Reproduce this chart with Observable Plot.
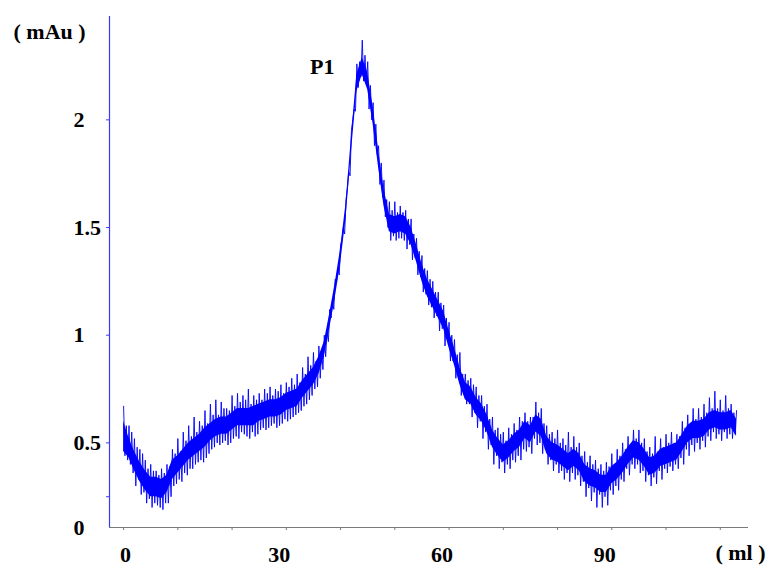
<!DOCTYPE html>
<html><head><meta charset="utf-8">
<script src="https://cdn.jsdelivr.net/npm/d3@7"></script>
<script src="https://cdn.jsdelivr.net/npm/@observablehq/plot@0.6"></script>
<style>html,body{margin:0;padding:0;background:#fff}#chart svg{display:block}</style>
</head><body><div id="chart"></div>
<script>
// elution volume (ml), sampled every 1 ml
const volumeMl = d3.range(0, 114);
// dense core of the noisy absorbance trace (mAu): lower / upper edge
const coreLo = [0.46,0.43,0.37,0.32,0.28,0.25,0.25,0.24,0.27,0.33,
0.36,0.39,0.42,0.44,0.46,0.48,0.51,0.53,0.54,0.54,
0.56,0.58,0.58,0.58,0.58,0.60,0.61,0.62,0.62,0.63,
0.65,0.66,0.67,0.71,0.74,0.77,0.82,0.90,1.03,1.17,
1.33,1.54,1.85,2.13,2.21,2.14,1.98,1.78,1.60,1.48,
1.47,1.48,1.47,1.42,1.34,1.25,1.18,1.13,1.08,1.03,
0.94,0.86,0.77,0.70,0.68,0.63,0.60,0.55,0.48,0.44,
0.41,0.43,0.46,0.48,0.52,0.50,0.55,0.53,0.45,0.42,
0.41,0.39,0.37,0.39,0.37,0.32,0.30,0.29,0.27,0.27,
0.31,0.33,0.36,0.40,0.43,0.42,0.39,0.35,0.36,0.39,
0.40,0.41,0.42,0.46,0.50,0.52,0.52,0.53,0.56,0.57,
0.56,0.56,0.57,0.53];
const coreHi = [0.60,0.52,0.46,0.41,0.37,0.34,0.34,0.33,0.35,0.42,
0.44,0.47,0.50,0.52,0.54,0.57,0.59,0.61,0.62,0.62,
0.64,0.66,0.66,0.66,0.67,0.68,0.69,0.70,0.70,0.71,
0.73,0.74,0.75,0.79,0.82,0.85,0.90,0.97,1.10,1.24,
1.40,1.61,1.92,2.21,2.29,2.22,2.06,1.86,1.68,1.56,
1.55,1.56,1.55,1.50,1.42,1.33,1.26,1.21,1.16,1.11,
1.02,0.94,0.85,0.78,0.76,0.71,0.68,0.63,0.56,0.52,
0.49,0.51,0.54,0.56,0.60,0.58,0.63,0.61,0.53,0.50,
0.49,0.47,0.45,0.47,0.45,0.40,0.38,0.37,0.35,0.35,
0.39,0.41,0.44,0.48,0.51,0.50,0.47,0.43,0.44,0.47,
0.48,0.49,0.50,0.54,0.58,0.60,0.60,0.61,0.64,0.65,
0.64,0.64,0.65,0.61];
// large noise spikes: upward extreme at each ml, downward extreme a quarter ml later
const spikeUp = [0.67,0.58,0.52,0.47,0.42,0.40,0.37,0.38,0.40,0.47,
0.52,0.55,0.58,0.62,0.60,0.65,0.68,0.70,0.69,0.66,
0.72,0.73,0.72,0.75,0.72,0.73,0.75,0.76,0.75,0.77,
0.78,0.80,0.82,0.85,0.90,0.92,0.95,1.00,1.12,1.26,
1.42,1.63,1.95,2.26,2.37,2.27,2.08,1.88,1.72,1.62,
1.62,1.60,1.58,1.54,1.45,1.37,1.30,1.25,1.20,1.14,
1.06,0.98,0.92,0.82,0.80,0.76,0.72,0.68,0.62,0.57,
0.55,0.57,0.59,0.62,0.64,0.62,0.69,0.66,0.58,0.55,
0.56,0.52,0.55,0.53,0.50,0.46,0.44,0.42,0.40,0.41,
0.45,0.47,0.50,0.53,0.56,0.56,0.52,0.48,0.53,0.52,
0.54,0.55,0.54,0.60,0.63,0.66,0.66,0.68,0.71,0.74,
0.70,0.72,0.68,0.65];
const spikeDown = [0.44,0.40,0.30,0.26,0.22,0.20,0.21,0.19,0.22,0.30,
0.33,0.36,0.38,0.40,0.42,0.43,0.47,0.50,0.50,0.49,
0.52,0.52,0.54,0.52,0.53,0.56,0.56,0.58,0.57,0.59,
0.60,0.62,0.64,0.67,0.70,0.75,0.80,0.90,1.08,1.25,
1.44,1.68,2.00,2.15,2.18,2.05,1.88,1.70,1.55,1.44,
1.44,1.45,1.40,1.35,1.28,1.20,1.14,1.08,1.02,0.95,
0.88,0.80,0.72,0.68,0.62,0.57,0.52,0.47,0.40,0.38,
0.36,0.38,0.41,0.42,0.46,0.45,0.49,0.45,0.40,0.37,
0.36,0.33,0.32,0.33,0.30,0.25,0.23,0.20,0.20,0.21,
0.26,0.28,0.32,0.35,0.38,0.36,0.32,0.30,0.31,0.33,
0.36,0.37,0.38,0.40,0.44,0.46,0.47,0.48,0.51,0.52,
0.51,0.52,0.52];
// smaller noise spikes: upward at ml + 0.5, downward at ml + 0.75
const spikeUpB = [0.58,0.55,0.48,0.45,0.38,0.37,0.35,0.36,0.39,0.45,
0.46,0.51,0.53,0.55,0.58,0.59,0.63,0.63,0.66,0.65,
0.67,0.69,0.70,0.68,0.70,0.70,0.73,0.72,0.74,0.73,
0.76,0.77,0.78,0.82,0.86,0.88,0.93,1.02,1.16,1.31,
1.50,1.76,2.05,2.27,2.30,2.16,1.98,1.80,1.63,1.58,
1.57,1.57,1.54,1.47,1.39,1.31,1.26,1.20,1.15,1.08,
1.00,0.91,0.82,0.79,0.77,0.72,0.67,0.61,0.56,0.54,
0.51,0.54,0.56,0.60,0.60,0.62,0.64,0.59,0.54,0.52,
0.50,0.49,0.48,0.48,0.44,0.41,0.40,0.38,0.37,0.39,
0.40,0.44,0.47,0.49,0.52,0.50,0.46,0.45,0.46,0.48,
0.50,0.50,0.53,0.57,0.59,0.61,0.62,0.64,0.66,0.66,
0.65,0.66,0.64];
const spikeDownB = [0.42,0.36,0.33,0.27,0.24,0.22,0.20,0.22,0.25,0.31,
0.32,0.35,0.38,0.41,0.41,0.45,0.48,0.49,0.51,0.50,
0.53,0.55,0.53,0.55,0.54,0.57,0.57,0.59,0.58,0.61,
0.61,0.63,0.65,0.68,0.72,0.76,0.84,0.97,1.12,1.28,
1.47,1.74,2.04,2.20,2.17,2.00,1.84,1.64,1.50,1.46,
1.45,1.44,1.42,1.36,1.27,1.19,1.13,1.09,1.03,0.97,
0.88,0.80,0.74,0.68,0.64,0.60,0.55,0.49,0.44,0.41,
0.40,0.42,0.44,0.47,0.48,0.52,0.50,0.47,0.42,0.40,
0.37,0.36,0.36,0.35,0.32,0.29,0.27,0.26,0.25,0.28,
0.30,0.33,0.38,0.40,0.40,0.37,0.35,0.34,0.37,0.38,
0.39,0.40,0.43,0.47,0.49,0.50,0.51,0.53,0.55,0.54,
0.55,0.54,0.54];

const xTicks = [0,10,20,30,40,50,60,70,80,90,100,110];
const xLabelValues = [0,30,60,90];
const yTicks = [0.25,0.5,1,1.5,2];
const yLabelValues = [0,0.5,1,1.5,2];
const yLabelText = ["0","0.5","1","1.5","2"];
const peakNames = ["P1"];
const peakMl = [44];
const peakValue = [2.25];
const xUnit = "( ml )";
const yUnit = "( mAu )";

const blue = "#0000ff";
const xDomain = [-2.6, 115.2];
const yDomain = [0.107, 2.48];

// noisy trace: the typed extremes in order along the volume axis
const trace = [];
volumeMl.forEach((v, i) => {
  trace.push({x: v, y: spikeUp[i]});
  if (i < spikeDown.length) {
    trace.push({x: v + 0.25, y: spikeDown[i]});
    trace.push({x: v + 0.5, y: spikeUpB[i]});
    trace.push({x: v + 0.75, y: spikeDownB[i]});
  }
});

const font = {fontSize: 22, fontWeight: "bold", fill: "#000"};

const chart = Plot.plot({
  width: 770, height: 568,
  marginLeft: 109, marginRight: 22, marginTop: 16, marginBottom: 41,
  x: {domain: xDomain},
  y: {domain: yDomain, clamp: true},
  style: {fontFamily: "'Liberation Serif','Times New Roman',serif", background: "#fff"},
  marks: [
    Plot.axisX(xTicks, {tickSize: 3, tickFormat: () => "", stroke: "#7a7a7a", label: null}),
    Plot.axisY(yTicks, {tickSize: 3, tickFormat: () => "", stroke: "#3a3aff", label: null}),
    Plot.ruleY([yDomain[0]], {stroke: "#7a7a7a", strokeWidth: 1}),
    Plot.ruleX([xDomain[0]], {stroke: "#3a3aff", strokeWidth: 1.2}),
    Plot.areaY(volumeMl, {x: d => d, y1: (d, i) => coreLo[i], y2: (d, i) => coreHi[i], fill: blue}),
    Plot.line(trace, {x: "x", y: "y", stroke: blue, strokeWidth: 0.9}),
    Plot.text(yLabelValues, {y: d => d, text: (d, i) => yLabelText[i], frameAnchor: "left", textAnchor: "start", lineAnchor: "middle", dx: -36, ...font}),
    Plot.text(xLabelValues.slice(0, 1), {x: d => d, text: d => String(d), frameAnchor: "bottom", lineAnchor: "middle", dy: 27, dx: 2, ...font}),
    Plot.text(xLabelValues.slice(1), {x: d => d, text: d => String(d), frameAnchor: "bottom", lineAnchor: "middle", dy: 27, dx: -7, ...font}),
    Plot.text([xUnit], {text: d => d, frameAnchor: "bottom-right", textAnchor: "end", lineAnchor: "middle", dx: 17, dy: 25, ...font}),
    Plot.text([yUnit], {text: d => d, frameAnchor: "top-left", textAnchor: "start", lineAnchor: "middle", dx: -96, dy: 15, ...font}),
    Plot.text(peakNames, {x: (d, i) => peakMl[i], y: (d, i) => peakValue[i], text: d => d, dx: -40, dy: 1, lineAnchor: "middle", ...font})
  ]
});
document.getElementById("chart").appendChild(chart);
</script>
</body></html>
